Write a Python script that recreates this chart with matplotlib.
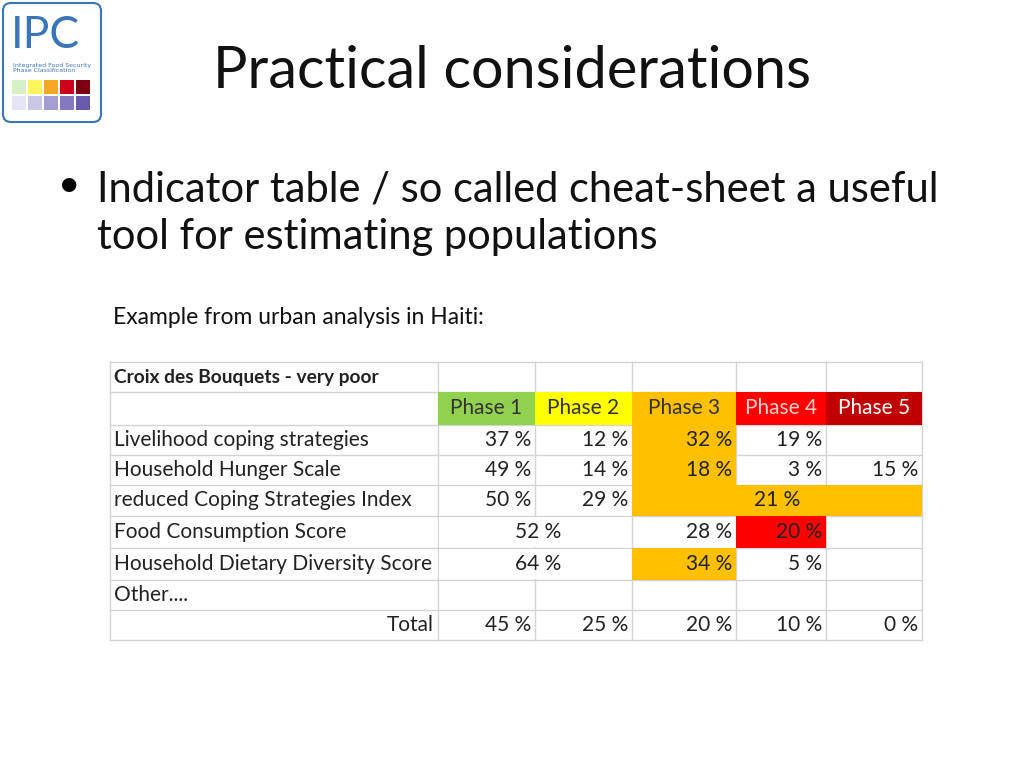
import matplotlib
matplotlib.use("Agg")
import matplotlib.pyplot as plt
from matplotlib.patches import Rectangle, FancyBboxPatch

title = "Practical considerations"
bullet = "Indicator table / so called cheat-sheet a useful\ntool for estimating populations"
subtitle = "Example from urban analysis in Haiti:"
table_title = "Croix des Bouquets - very poor"
phases = ["Phase 1", "Phase 2", "Phase 3", "Phase 4", "Phase 5"]
phase_colors = ["#92D050", "#FFFF00", "#FFC000", "#FF0000", "#C00000"]
phase_text = ["#333333", "#333333", "#333333", "#FFD0D0", "white"]
rows = ["Livelihood coping strategies", "Household Hunger Scale",
        "reduced Coping Strategies Index", "Food Consumption Score",
        "Household Dietary Diversity Score", "Other....", "Total"]
# cells: (row, first col, last col, text, fill)
cells = [
    (0, 0, 0, "37 %", None), (0, 1, 1, "12 %", None), (0, 2, 2, "32 %", "#FFC000"), (0, 3, 3, "19 %", None),
    (1, 0, 0, "49 %", None), (1, 1, 1, "14 %", None), (1, 2, 2, "18 %", "#FFC000"), (1, 3, 3, "3 %", None), (1, 4, 4, "15 %", None),
    (2, 0, 0, "50 %", None), (2, 1, 1, "29 %", None), (2, 2, 4, "21 %", "#FFC000"),
    (3, 0, 1, "52 %", None), (3, 2, 2, "28 %", None), (3, 3, 3, "20 %", "#FF0000"),
    (4, 0, 1, "64 %", None), (4, 2, 2, "34 %", "#FFC000"), (4, 3, 3, "5 %", None),
    (6, 0, 0, "45 %", None), (6, 1, 1, "25 %", None), (6, 2, 2, "20 %", None), (6, 3, 3, "10 %", None), (6, 4, 4, "0 %", None),
]

fig = plt.figure(figsize=(10.24, 7.68), dpi=100)
ax = fig.add_axes([0, 0, 1, 1])
ax.set_xlim(0, 1024); ax.set_ylim(768, 0); ax.axis("off")

# logo
ax.add_patch(FancyBboxPatch((3, 3), 98, 119, boxstyle="round,pad=0,rounding_size=8",
                            fc="white", ec="#3A75B8", lw=1.5))
ax.text(11, 36, "IPC", color="#3A75B8", fontsize=32, fontfamily="Lato", va="center")
ax.text(13, 68, "Integrated Food Security\nPhase Classification", color="#3A75B8",
        fontsize=4.5, va="center", linespacing=1.0)
logo_top = ["#D8F0C8", "#FFF45C", "#F5A623", "#D0021B", "#7A0010"]
logo_bot = ["#E4E4F2", "#C9C6E6", "#A39DD2", "#8479C0", "#6A5AAE"]
for i, c in enumerate(logo_top):
    ax.add_patch(Rectangle((12 + i * 16, 80), 14, 14, fc=c, ec="none"))
for i, c in enumerate(logo_bot):
    ax.add_patch(Rectangle((12 + i * 16, 96), 14, 14, fc=c, ec="none"))

fam = "Lato"
ax.text(512, 72, title, fontsize=41.5, fontfamily=fam, ha="center", va="center", color="#111111")
ax.text(58, 185, "•", fontsize=28, fontfamily=fam, va="center")
ax.text(97, 213, bullet, fontsize=30, fontfamily=fam, va="center", linespacing=1.3, color="#111111")
ax.text(113, 318, subtitle, fontsize=16.5, fontfamily=fam, va="center", color="#111111")

xs = [110, 438, 535, 632, 736, 826, 922]
ys = [362, 392, 425, 455, 485, 516, 548, 580, 610, 640]
grid = "#D4D4D4"
fs = 15
for y in ys:
    ax.plot([xs[0], xs[-1]], [y, y], color=grid, lw=1, zorder=1)
for x in xs:
    ax.plot([x, x], [ys[0], ys[-1]], color=grid, lw=1, zorder=1)
ax.text(xs[0] + 4, (ys[0] + ys[1]) / 2, table_title, fontsize=13.8, fontfamily=fam,
        fontweight="bold", va="center", color="#222222", zorder=4)
for i, p in enumerate(phases):
    ax.add_patch(Rectangle((xs[i + 1], ys[1]), xs[i + 2] - xs[i + 1], ys[2] - ys[1],
                           fc=phase_colors[i], ec="none", zorder=3))
    ax.text((xs[i + 1] + xs[i + 2]) / 2, (ys[1] + ys[2]) / 2, p, fontsize=fs,
            fontfamily=fam, ha="center", va="center", color=phase_text[i], zorder=4)
for r, name in enumerate(rows):
    yc = (ys[r + 2] + ys[r + 3]) / 2
    if name == "Total":
        ax.text(xs[1] - 4, yc, name, fontsize=fs, fontfamily=fam, ha="right", va="center", color="#222222", zorder=4)
    else:
        ax.text(xs[0] + 4, yc, name, fontsize=fs, fontfamily=fam, va="center", color="#222222", zorder=4)
for r, c0, c1, t, fill in cells:
    x0, x1 = xs[c0 + 1], xs[c1 + 2]
    y0, y1 = ys[r + 2], ys[r + 3]
    if fill:
        ax.add_patch(Rectangle((x0, y0), x1 - x0, y1 - y0, fc=fill, ec="none", zorder=3))
    elif c1 > c0:
        ax.add_patch(Rectangle((x0 + 1, y0 + 1), x1 - x0 - 2, y1 - y0 - 2, fc="white", ec="none", zorder=3))
    if c1 > c0 and fill:
        tx, ha = (x0 + x1) / 2, "center"
    elif c1 > c0:
        tx, ha = xs[c0 + 2] + 26, "right"
    else:
        tx, ha = x1 - 4, "right"
    ax.text(tx, (y0 + y1) / 2, t, fontsize=fs, fontfamily=fam, ha=ha, va="center", color="#222222", zorder=4)

fig.savefig("out.png", dpi=100)
